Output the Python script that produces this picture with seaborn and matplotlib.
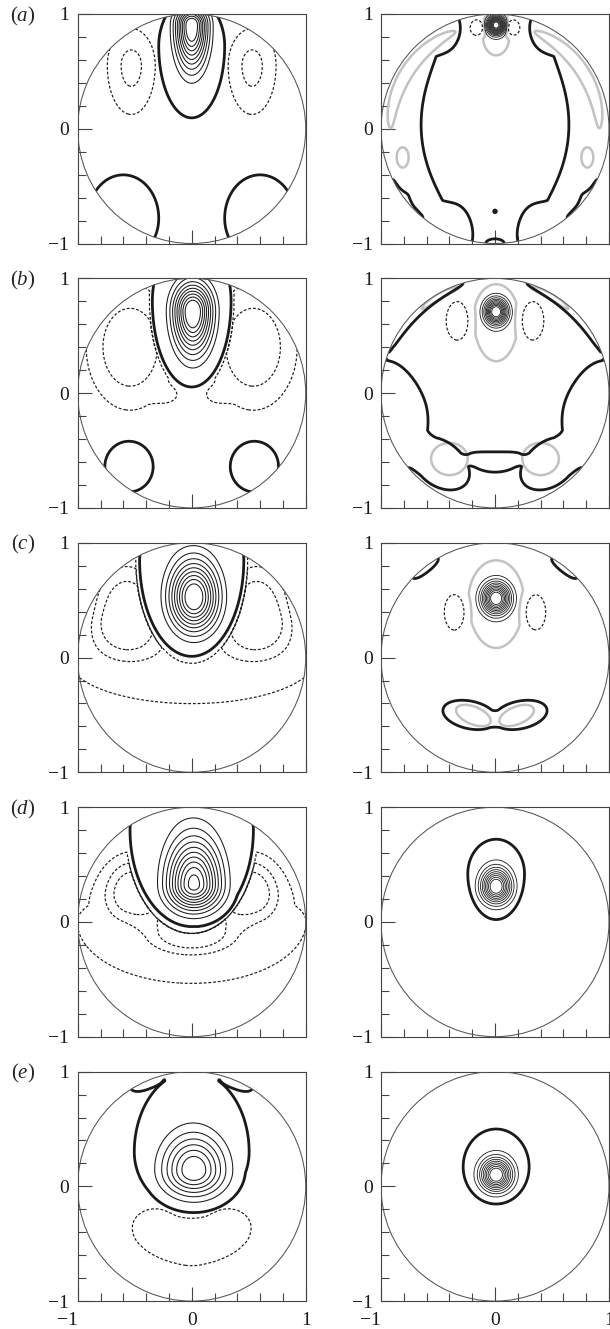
import numpy as np
import matplotlib
matplotlib.use("Agg")
import matplotlib.pyplot as plt
from matplotlib.patches import Circle
import seaborn as sns

sns.set_theme(style="white")
plt.rcParams["font.family"] = ["Liberation Serif", "DejaVu Serif"]
plt.rcParams["mathtext.fontset"] = "custom"
plt.rcParams["mathtext.rm"] = "Liberation Serif"
plt.rcParams["mathtext.it"] = "Liberation Serif:italic"

# ---------------------------------------------------------------------------
# Flow structures, described by compact blobs (left half + axis; the right
# half is the mirror image):
#   ('egg', x0, y0, amp, half_x, half_y_below, half_y_above)
#   ('rod', x0, y0, amp, half_length, half_width, angle_deg)
#   ('arc', theta_deg, half_span_deg, r0, half_width, amp)
# ---------------------------------------------------------------------------
PANEL_LABELS = ["a", "b", "c", "d", "e"]
MAJOR_TICKS = [-1, 0, 1]
MINOR_TICKS = [-0.8, -0.6, -0.4, -0.2, 0.2, 0.4, 0.6, 0.8]
TICK_LABELS = ["\u22121", "0", "1"]

# stream function (left column): positive cells, negative cells, levels
PSI_POS_A = [("egg", 0.0, 0.91, 10.0, 0.23, 0.60, 0.25),
             ("egg", 0.0, 0.72, 0.8, 0.31, 0.67, 0.45),
             ("egg", -0.60, -0.78, 0.5, 0.345, 0.40, 0.42)]
PSI_NEG_A = [("egg", -0.53, 0.55, 2.3, 0.41, 0.83, 0.63)]
PSI_THIN_A = [1, 2, 3, 4, 5, 6, 7, 8, 9]
PSI_DASH_A = [-2, -1]

PSI_POS_B = [("egg", 0.01, 0.71, 10.0, 0.28, 0.60, 0.40),
             ("egg", 0.0, 0.80, 0.8, 0.37, 0.80, 0.60),
             ("egg", -0.55, -0.64, 0.5, 0.235, 0.245, 0.245)]
PSI_NEG_B = [("egg", -0.54, 0.40, 3.0, 0.66, 0.94, 0.94),
             ("egg", -0.20, -0.02, 0.8, 0.22, 0.15, 0.15)]
PSI_THIN_B = [1, 2, 3, 4, 5, 6, 7, 8, 9]
PSI_DASH_B = [-2, -1]

PSI_POS_C = [("egg", 0.02, 0.52, 10.0, 0.35, 0.48, 0.51),
             ("egg", 0.0, 0.85, 0.8, 0.49, 0.90, 0.40)]
PSI_NEG_C = [("egg", 0.0, 0.0, 1.5, 3.0, 1.10, 0.50),
             ("egg", -0.57, 0.34, 4.5, 0.56, 0.50, 0.90)]
PSI_THIN_C = [1, 2, 3, 4, 5, 6, 7, 8, 9]
PSI_DASH_C = [-3, -2, -1]

PSI_POS_D = [("egg", 0.02, 0.32, 10.2, 0.39, 0.36, 0.64),
             ("egg", 0.0, 0.80, 0.8, 0.58, 0.90, 0.50)]
PSI_NEG_D = [("egg", -0.52, 0.26, 3.4, 0.40, 0.40, 0.50),
             ("egg", 0.0, -0.08, 3.6, 0.60, 0.30, 0.40),
             ("egg", 0.0, 0.0, 1.4, 3.0, 1.60, 1.00)]
PSI_THIN_D = [1, 2, 3, 4, 5, 6, 7, 8, 9, 10]
PSI_DASH_D = [-3, -2, -1]

PSI_POS_E = [("egg", 0.02, 0.13, 6.5, 0.45, 0.36, 0.50),
             ("egg", 0.0, 0.30, 0.8, 0.54, 0.55, 0.75),
             ("egg", 0.0, 1.0, 0.5, 0.28, 0.15, 0.10),
             ("arc", 113, 10, 1.0, 0.08, 0.5)]
PSI_NEG_E = [("egg", -0.32, -0.36, 1.5, 0.55, 0.55, 0.45),
             ("egg", 0.0, -0.45, 1.6, 0.45, 0.50, 0.20)]
PSI_THIN_E = [1, 2, 3, 4, 5, 6]
PSI_DASH_E = [-1]

# vorticity (right column)
OMEGA_POS_A = [("egg", 0.01, 0.905, 13.0, 0.125, 0.13, 0.13),
               ("egg", 0.01, 0.80, 0.9, 0.23, 0.32, 0.25)]
OMEGA_NEG_A = [("egg", -0.16, 0.88, 3.0, 0.10, 0.12, 0.12)]
OMEGA_THIN_A = [1, 2, 3, 4, 5, 6, 7, 8, 9, 10, 11, 12]
OMEGA_EDGE_A = [0.4]

OMEGA_POS_B = [("egg", 0.01, 0.71, 11.0, 0.16, 0.18, 0.18),
               ("egg", 0.01, 0.66, 0.9, 0.34, 0.66, 0.50)]
OMEGA_NEG_B = [("egg", -0.33, 0.63, 3.0, 0.17, 0.29, 0.29)]
OMEGA_THIN_B = [1, 2, 3, 4, 5, 6, 7, 8, 9, 10]
OMEGA_EDGE_B = [0.3]

OMEGA_POS_C = [("egg", 0.01, 0.516, 11.0, 0.20, 0.22, 0.22),
               ("egg", 0.01, 0.50, 0.9, 0.42, 0.72, 0.60)]
OMEGA_NEG_C = [("egg", -0.355, 0.395, 3.0, 0.155, 0.27, 0.27)]
OMEGA_THIN_C = [1, 2, 3, 4, 5, 6, 7, 8, 9, 10]
OMEGA_EDGE_C = [0.3]

OMEGA_POS_D = [("egg", 0.01, 0.307, 10.0, 0.21, 0.23, 0.25),
               ("egg", 0.01, 0.42, 0.9, 0.43, 0.69, 0.52)]
OMEGA_NEG_D = []
OMEGA_THIN_D = [1, 2, 3, 4, 5, 6, 7, 8, 9]
OMEGA_EDGE_D = [0.3]

OMEGA_POS_E = [("egg", 0.01, 0.099, 10.0, 0.22, 0.22, 0.23),
               ("egg", 0.01, 0.17, 0.9, 0.50, 0.56, 0.57)]
OMEGA_NEG_E = []
OMEGA_THIN_E = [1, 2, 3, 4, 5, 6, 7, 8, 9]
OMEGA_EDGE_E = [0.3]

# wall tracer (thick black outline) and dye patches (grey outline)
TRACER_A = [("arc", 184, 80, 1.0, 0.44, 1.0),
            ("arc", 120, 14, 1.0, 0.25, 1.0),
            ("arc", 245, 16, 1.0, 0.32, 1.0),
            ("arc", 215, 25, 1.0, 0.04, -1.0),
            ("egg", -0.80, -0.62, -1.0, 0.10, 0.14, 0.14),
            ("egg", -0.45, -0.90, -1.0, 0.10, 0.06, 0.06),
            ("egg", 0.0, -1.0, 0.3, 0.14, 0.07, 0.07),
            ("egg", 0.0, -0.72, 0.3, 0.02, 0.02, 0.02)]
DYE_A = [("arc", 146, 42, 0.915, 0.07, 1.0),
         ("egg", -0.81, -0.25, 1.0, 0.065, 0.11, 0.11)]

TRACER_B = [("arc", 132, 32, 1.0, 0.07, 1.0),
            ("arc", 192, 36, 0.95, 0.42, 1.0),
            ("arc", 232, 26, 0.78, 0.24, 1.0),
            ("arc", 270, 30, 0.60, 0.11, 1.0)]
DYE_B = [("egg", -0.40, -0.57, 1.0, 0.20, 0.18, 0.17),
         ("arc", 120, 14, 0.975, 0.03, 1.0)]

TRACER_C = [("arc", 128, 10, 1.0, 0.06, 1.0),
            ("rod", -0.22, -0.50, 1.0, 0.30, 0.15, -12)]
DYE_C = [("rod", -0.19, -0.505, 1.0, 0.20, 0.095, -22)]

OUTLINE_LEVEL = [0.1]
EPS = 0.02
K = 3.0


def mirrored(specs):
    out = []
    for s in specs:
        out.append(s)
        if s[0] == "egg" and s[1] < 0:
            out.append(("egg", -s[1]) + tuple(s[2:]))
        elif s[0] == "rod" and s[1] < 0:
            out.append(("rod", -s[1], s[2], s[3], s[4], s[5], -s[6]))
        elif s[0] == "arc" and 90 < s[1] < 270:
            out.append(("arc", 180 - s[1]) + tuple(s[2:]))
    return out


def profile(q):
    return np.where(q < 1, (np.exp(-K * q) - np.exp(-K)) / (1 - np.exp(-K)), 0.0)


xs = np.linspace(-1.02, 1.02, 561)
XX, YY = np.meshgrid(xs, xs)
RR = np.hypot(XX, YY)
TH = np.degrees(np.arctan2(YY, XX))


def evaluate(specs):
    F = np.zeros_like(XX)
    for s in mirrored(specs):
        if s[0] == "egg":
            _, x0, y0, amp, hx, lo, hi = s
            dy = YY - y0
            q = ((XX - x0) / hx) ** 2 + (dy / np.where(dy < 0, lo, hi)) ** 2
        elif s[0] == "rod":
            _, x0, y0, amp, a, b, ang = s
            c, sn = np.cos(np.radians(ang)), np.sin(np.radians(ang))
            u = (XX - x0) * c + (YY - y0) * sn
            v = -(XX - x0) * sn + (YY - y0) * c
            q = (u / a) ** 2 + (v / b) ** 2
        else:
            _, th0, span, r0, w, amp = s
            dth = (TH - th0 + 180) % 360 - 180
            q = (dth / span) ** 2 + ((RR - r0) / w) ** 2
        F += amp * profile(q)
    return F


def stream_function(pos, neg):
    P = evaluate(pos)
    N = evaluate(neg)
    return np.where(P > 0, P, -N) - EPS


THIN = dict(colors="k", linewidths=0.75)
FINE = dict(colors="k", linewidths=0.6)
THICK = dict(colors="k", linewidths=2.0)
DASH = dict(colors="k", linewidths=0.85, linestyles=[(0, (2.4, 1.6))])
GRAY = dict(colors="#c2c2c2", linewidths=1.8)


def draw(ax, Z, levels, style):
    if not levels:
        return
    lv = sorted(levels)
    if Z.max() < lv[0] or Z.min() > lv[-1]:
        return
    clip = Circle((0, 0), 1.0, transform=ax.transData)
    cs = ax.contour(XX, YY, Z, levels=lv, **style)
    cs.set_clip_path(clip)


def frame(ax, bottom_row):
    ax.set_xlim(-1, 1)
    ax.set_ylim(-1, 1)
    ax.add_patch(Circle((0, 0), 1.0, fill=False, lw=0.75, ec="#555555", zorder=5))
    ax.set_xticks(MAJOR_TICKS)
    ax.set_yticks(MAJOR_TICKS)
    ax.set_xticks(MINOR_TICKS, minor=True)
    ax.set_yticks(MINOR_TICKS, minor=True)
    ax.tick_params(which="both", direction="in", top=False, right=False,
                   bottom=True, left=True, color="#444444", width=0.8,
                   labelsize=14, labelcolor="k")
    ax.tick_params(which="major", length=10, pad=6)
    ax.tick_params(which="minor", length=5.8)
    ax.tick_params(axis="x", which="major", pad=8)
    ax.set_yticklabels(TICK_LABELS)
    if bottom_row:
        ax.set_xticklabels(TICK_LABELS)
        ax.get_xticklabels()[0].set_ha("right")
    else:
        ax.set_xticklabels([])
    for sp in ax.spines.values():
        sp.set_color("#444444")
        sp.set_linewidth(0.8)
        sp.set_visible(True)
    ax.grid(False)


psi_rows = [(PSI_POS_A, PSI_NEG_A, PSI_THIN_A, PSI_DASH_A),
            (PSI_POS_B, PSI_NEG_B, PSI_THIN_B, PSI_DASH_B),
            (PSI_POS_C, PSI_NEG_C, PSI_THIN_C, PSI_DASH_C),
            (PSI_POS_D, PSI_NEG_D, PSI_THIN_D, PSI_DASH_D),
            (PSI_POS_E, PSI_NEG_E, PSI_THIN_E, PSI_DASH_E)]
omega_rows = [(OMEGA_POS_A, OMEGA_NEG_A, OMEGA_THIN_A, OMEGA_EDGE_A, GRAY),
              (OMEGA_POS_B, OMEGA_NEG_B, OMEGA_THIN_B, OMEGA_EDGE_B, GRAY),
              (OMEGA_POS_C, OMEGA_NEG_C, OMEGA_THIN_C, OMEGA_EDGE_C, GRAY),
              (OMEGA_POS_D, OMEGA_NEG_D, OMEGA_THIN_D, OMEGA_EDGE_D, THICK),
              (OMEGA_POS_E, OMEGA_NEG_E, OMEGA_THIN_E, OMEGA_EDGE_E, THICK)]
wall_rows = [(TRACER_A, DYE_A), (TRACER_B, DYE_B), (TRACER_C, DYE_C), None, None]

W, H = 610, 1329
fig = plt.figure(figsize=(W / 100, H / 100), dpi=100)
fig.patch.set_facecolor("white")
col_left = [77.7, 381.0]
box_w, box_h = 228.0, 229.5
row_top = [14.0, 278.4, 542.8, 807.2, 1071.6]

for i in range(5):
    top = row_top[i]
    axl = fig.add_axes([col_left[0] / W, 1 - (top + box_h) / H, box_w / W, box_h / H])
    axr = fig.add_axes([col_left[1] / W, 1 - (top + box_h) / H, box_w / W, box_h / H])
    for ax in (axl, axr):
        ax.set_facecolor("white")

    pos, neg, thin, dash = psi_rows[i]
    psi = stream_function(pos, neg)
    draw(axl, psi, [0.0], THICK)
    draw(axl, psi, thin, THIN)
    draw(axl, psi, dash, DASH)

    if wall_rows[i] is not None:
        tracer, dye = wall_rows[i]
        draw(axr, evaluate(dye), OUTLINE_LEVEL, GRAY)
        draw(axr, evaluate(tracer), OUTLINE_LEVEL, THICK)
    wpos, wneg, wthin, wedge, edge_style = omega_rows[i]
    omega = evaluate(wpos) - evaluate(wneg)
    draw(axr, omega, wedge, edge_style)
    draw(axr, omega, wthin, FINE)
    draw(axr, omega, [-1], DASH)

    frame(axl, i == 4)
    frame(axr, i == 4)
    fig.text(23 / W, 1 - (top + 2) / H, r"($\mathit{%s}$)" % PANEL_LABELS[i],
             fontsize=15, ha="center", va="center")

fig.savefig("out.png", dpi=100, facecolor="white")
